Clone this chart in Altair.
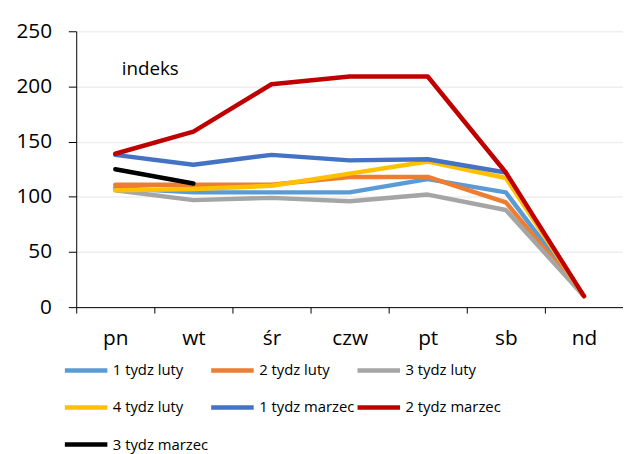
import altair as alt
import pandas as pd

days = ["pn", "wt", "śr", "czw", "pt", "sb", "nd"]
series_names = ["1 tydz luty", "2 tydz luty", "3 tydz luty", "4 tydz luty",
                "1 tydz marzec", "2 tydz marzec", "3 tydz marzec"]
tydz1_luty = [108, 104, 104, 104, 116, 104, 10]
tydz2_luty = [111, 111, 111, 118, 118, 95, 10]
tydz3_luty = [106, 97, 99, 96, 102, 88, 10]
tydz4_luty = [106, 107, 110, 121, 132, 117, 10]
tydz1_marzec = [138, 129, 138, 133, 134, 122, None]
tydz2_marzec = [139, 159, 202, 209, 209, 122, 10]
tydz3_marzec = [125, 112, None, None, None, None, None]
colors = ["#5B9BD5", "#ED7D31", "#A5A5A5", "#FFC000", "#4472C4", "#C00000", "#000000"]
widths = [4.5, 4.5, 4.5, 4.5, 4.5, 7, 7]

all_series = [tydz1_luty, tydz2_luty, tydz3_luty, tydz4_luty,
              tydz1_marzec, tydz2_marzec, tydz3_marzec]
rows = []
for name, vals in zip(series_names, all_series):
    for i, (d, v) in enumerate(zip(days, vals)):
        if v is not None:
            rows.append({"day": d, "value": v, "series": name, "order": i})
df = pd.DataFrame(rows)

FONT = "Open Sans"

lines = alt.Chart(df).mark_line(strokeCap="round", strokeJoin="round").encode(
    x=alt.X("day:N", sort=days, bandPosition=0.5,
            scale=alt.Scale(type="band", domain=days, paddingInner=0, paddingOuter=0),
            axis=alt.Axis(title=None, labelAngle=0, tickBand="extent", grid=False,
                          domainColor="#000000", tickColor="#000000", tickSize=6,
                          labelFontSize=21, labelPadding=15, labelColor="#000000",
                          labelFont=FONT)),
    y=alt.Y("value:Q", scale=alt.Scale(domain=[0, 250], nice=False),
            axis=alt.Axis(title=None, values=[0, 50, 100, 150, 200, 250],
                          grid=True, gridColor="#eeeeee", gridWidth=1.5,
                          domainColor="#000000", tickColor="#000000", tickSize=8,
                          labelFontSize=21, labelPadding=17, labelColor="#000000",
                          labelFont=FONT)),
    color=alt.Color("series:N", scale=alt.Scale(domain=series_names, range=colors),
                    legend=alt.Legend(title=None)),
    strokeWidth=alt.StrokeWidth("series:N", scale=alt.Scale(domain=series_names, range=widths),
                                legend=alt.Legend(title=None)),
    order="order:Q",
    detail="series:N",
)

label = alt.Chart(pd.DataFrame({"t": ["indeks"]})).mark_text(
    align="left", baseline="alphabetic", fontSize=19, font=FONT, color="#000000"
).encode(x=alt.value(46), y=alt.value(44), text="t:N")

chart = alt.layer(lines, label).properties(
    width=553, height=279,
    autosize=alt.AutoSizeParams(type="none"),
    padding={"left": 69, "top": 21, "right": 0, "bottom": 146},
).configure_view(stroke=None).configure_legend(
    orient="none", legendX=-14, legendY=319, columns=3, direction="horizontal",
    symbolType="stroke", symbolSize=1849, labelOffset=3,
    labelFontSize=15, labelFont=FONT, labelColor="#000000",
    rowPadding=4.5, columnPadding=-11, gridAlign="all", labelLimit=200,
)

chart.save("out.html", embed_options={"renderer": "svg", "actions": False})
